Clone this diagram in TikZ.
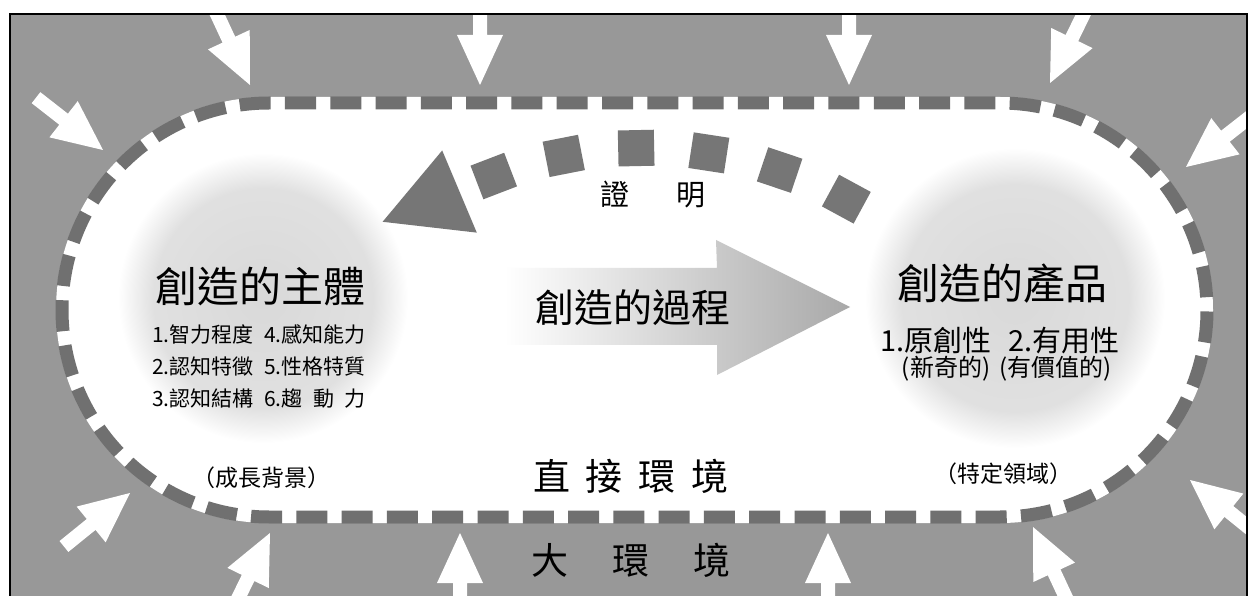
\documentclass[tikz,border=0pt]{standalone}
\usepackage{fontspec}
\newfontfamily\cjk{Noto Sans CJK TC}
\usetikzlibrary{calc}
\definecolor{bggray}{RGB}{152,152,152}
\definecolor{dashgray}{RGB}{112,112,112}
\definecolor{sqgray}{RGB}{118,118,118}
\pgfdeclareradialshading{blobshade}{\pgfpoint{0bp}{0bp}}{color(0bp)=(gray!30); color(19bp)=(gray!24); color(25bp)=(white); color(50bp)=(white)}
\tikzset{
  inarrow/.pic={\fill[white] (0,0) -- (-50,23) -- (-50,7) -- (-85,7) -- (-85,-7) -- (-50,-7) -- (-50,-23) -- cycle;},
  dashring/.style={draw=dashgray, line width=13pt, dash pattern=on 31pt off 14.29pt},
  blob/.style={circle, inner sep=0pt, shade, shading=blobshade},
  sqbox/.style={fill=sqgray, minimum size=36pt, inner sep=0pt},
  lbl/.style={inner sep=0pt, text=black, font=\cjk},
}
\begin{document}
\begin{tikzpicture}[x=1pt,y=1pt]
\useasboundingbox (0,0) rectangle (1253,595);
\fill[white] (0,0) rectangle (1253,595);
\begin{scope}
  \clip (10,-5) rectangle (1247,581);
  \fill[bggray] (10,-5) rectangle (1247,581);
  % white stadium (direct environment)
  \fill[white] (269,498) -- (1000,498) arc[start angle=90,end angle=-90,radius=213] -- (269,72) arc[start angle=270,end angle=90,radius=213] -- cycle;
  \path[dashring] (285,492) -- (1000,492) arc[start angle=90,end angle=-90,radius=207] -- (269,78) arc[start angle=270,end angle=90,radius=207] -- cycle;
  % inward white arrows
  \foreach \x/\y/\a in {250/510/-65, 103/445/-38, 480/510/-90, 849/510/-90, 1050/512/-116, 1186/428/-142,
                        130/102/39, 270/62/64, 460/62/90, 828/62/90, 1033/68/115, 1190/115/141}
    \pic[rotate=\a] at (\x,\y) {inarrow};
\end{scope}
\draw[line width=1.5pt] (10,-5) -- (10,581) -- (1247,581) -- (1247,-5);

% circles
\node[blob, minimum size=290pt] (subj) at (263,297) {};
\node[blob, minimum size=300pt] (prod) at (1015,297) {};

% process arrow
\shade[left color=white, right color=gray!68]
  (505,327) -- (717,327) -- (716,355) -- (850,288) -- (717,220) -- (717,250) -- (505,250) -- cycle;

% proof return arc
\coordinate (arcc) at (645,25);
\foreach \a in {61.5,71.4,81.3,91.2,101.1,111}
  \node[sqbox, rotate=\a-90] at ($(arcc)+(\a:422)$) {};
\fill[sqgray] ($(arcc)+(115.8:466)$) -- ($(arcc)+(127:436)$) -- ($(arcc)+(116.5:377)$) -- cycle;

% texts
\node[lbl, font=\cjk\fontsize{42}{48}\selectfont] (t1) at (260,308) {創造的主體};
\node[lbl, font=\cjk\fontsize{21}{32}\selectfont, align=left] (t2) at (259,229)
  {1.智力程度\hspace{0.5em}4.感知能力\\2.認知特徵\hspace{0.5em}5.性格特質\\3.認知結構\hspace{0.5em}6.\makebox[4em][s]{趨\hfill 動\hfill 力}};
\node[lbl, font=\cjk\fontsize{23}{28}\selectfont] (t3) at (261,117) {（成長背景）};
\node[lbl, font=\cjk\fontsize{29}{34}\selectfont] (t4) at (653,401) {證\hspace{47pt}明};
\node[lbl, font=\cjk\fontsize{39}{44}\selectfont] (t5) at (633,287) {創造的過程};
\node[lbl, font=\cjk\fontsize{37}{42}\selectfont] (t6) at (631,119) {直\hspace{16pt}接\hspace{16pt}環\hspace{16pt}境};
\node[lbl, font=\cjk\fontsize{37}{42}\selectfont] (t7) at (631,35) {大\hspace{44pt}環\hspace{44pt}境};
\node[lbl, font=\cjk\fontsize{42}{48}\selectfont] (t8) at (1002,311) {創造的產品};
\node[lbl, font=\cjk\fontsize{29}{34}\selectfont] (t9) at (1000,254) {1.原創性\hspace{0.6em}2.有用性};
\node[lbl, font=\cjk\fontsize{24}{28}\selectfont] (t10) at (1007,226) {(新奇的)\hspace{0.4em}(有價值的)};
\node[lbl, font=\cjk\fontsize{23}{28}\selectfont] (t11) at (1003,121) {（特定領域）};
\end{tikzpicture}
\end{document}
